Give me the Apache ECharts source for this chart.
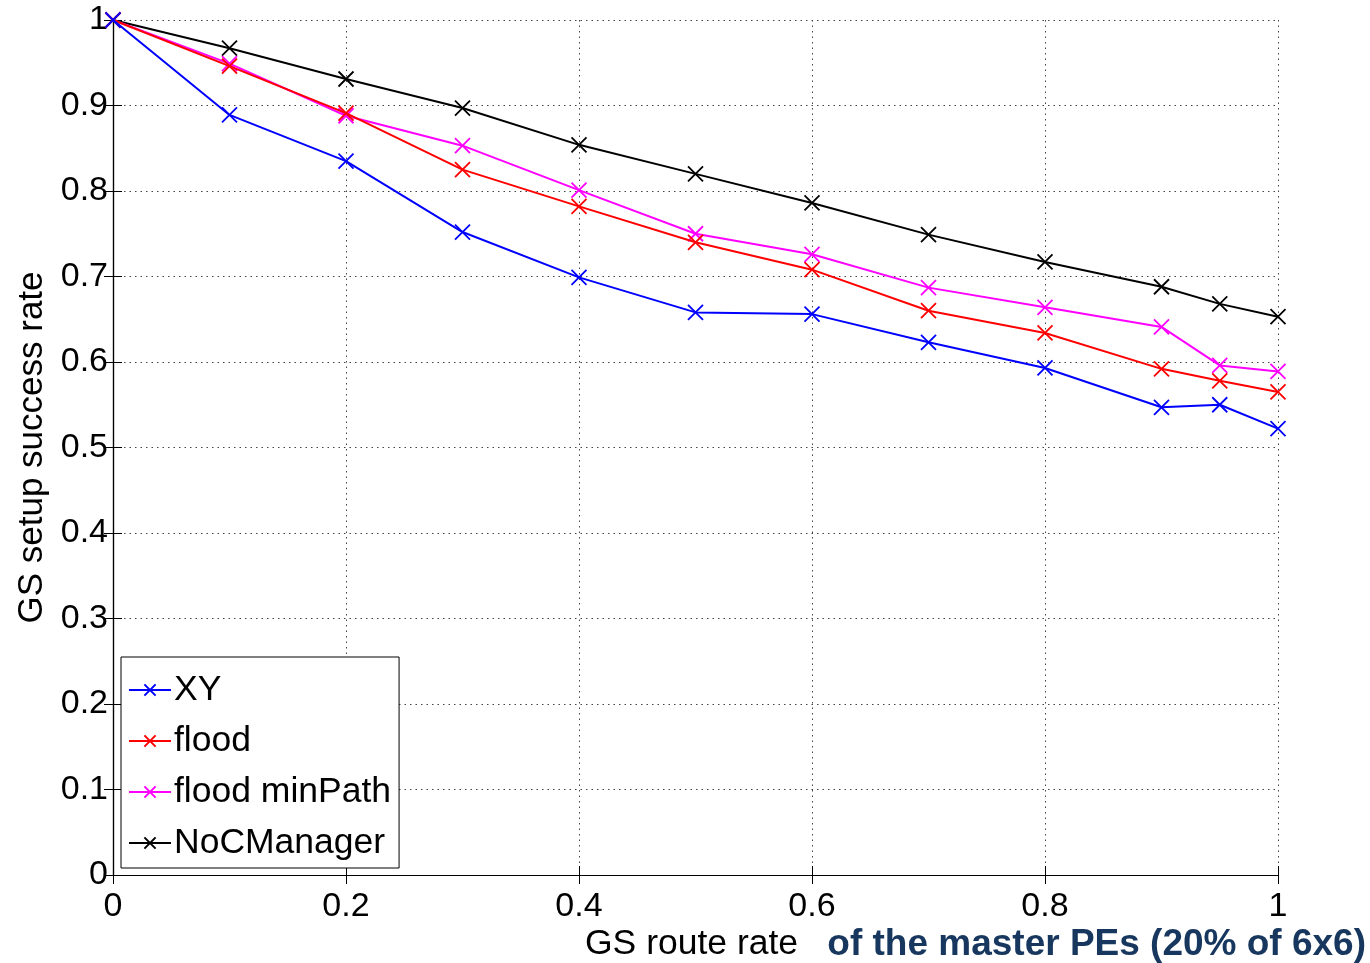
<!DOCTYPE html>
<html>
<head>
<meta charset="utf-8">
<script src="https://cdn.jsdelivr.net/npm/echarts@6/dist/echarts.min.js"></script>
<style>
html,body{margin:0;padding:0;background:#fff;}
#chart{width:1370px;height:963px;}
</style>
</head>
<body>
<div id="chart"></div>
<script>
const xValues = [0, 0.1, 0.2, 0.3, 0.4, 0.5, 0.6, 0.7, 0.8, 0.9, 0.95, 1];
const seriesNames = ['XY', 'flood', 'flood minPath', 'NoCManager'];
const xyValues = [1, 0.889, 0.835, 0.752, 0.699, 0.658, 0.656, 0.623, 0.593, 0.547, 0.550, 0.522];
const floodValues = [1, 0.946, 0.891, 0.825, 0.782, 0.740, 0.708, 0.660, 0.634, 0.592, 0.578, 0.565];
const floodMinPathValues = [1, 0.949, 0.888, 0.853, 0.801, 0.750, 0.726, 0.687, 0.664, 0.641, 0.596, 0.589];
const nocManagerValues = [1, 0.967, 0.931, 0.897, 0.854, 0.820, 0.786, 0.749, 0.717, 0.688, 0.668, 0.653];
const colors = ['#0000ff', '#ff0000', '#ff00ff', '#000000'];
const yAxisTitle = 'GS setup success rate';
const xAxisTitlePlain = 'GS route rate';
const xAxisTitleBold = 'of the master PEs (20% of 6x6)';

const FONT = 'Liberation Sans, Arial, Helvetica, sans-serif';
const chart = echarts.init(document.getElementById('chart'), null, {renderer: 'canvas'});
const allValues = [xyValues, floodValues, floodMinPathValues, nocManagerValues];
const xMark = 'path://M0,0L10,10M10,0L0,10';

const series = seriesNames.map((name, i) => ({
  name: name,
  type: 'line',
  data: xValues.map((x, j) => [x, allValues[i][j]]),
  symbol: xMark,
  symbolSize: 15,
  showAllSymbol: true,
  lineStyle: {color: colors[i], width: 2},
  itemStyle: {color: colors[i], borderColor: colors[i], borderWidth: 1.8},
  emphasis: {disabled: true},
  z: 10 - i,
  animation: false
}));

const gridLine = {show: true, lineStyle: {color: '#444', type: [1.5, 4], width: 1}};
const axisLineStyle = {show: true, lineStyle: {color: '#000', width: 1.2}};

chart.setOption({
  backgroundColor: '#fff',
  animation: false,
  grid: {left: 113, right: 92, top: 20, bottom: 88, containLabel: false, outerBoundsMode: 'none'},
  xAxis: [{
    type: 'value', min: 0, max: 1, interval: 0.2,
    axisLine: axisLineStyle,
    axisTick: {show: true, inside: true, length: 9, lineStyle: {color: '#000'}},
    axisLabel: {fontFamily: FONT, fontSize: 34, color: '#000', margin: 15,
      formatter: v => String(Math.round(v * 10) / 10)},
    splitLine: gridLine
  }, {
    type: 'value', min: 0, max: 1, interval: 0.2, position: 'top',
    axisLine: axisLineStyle,
    axisTick: {show: true, inside: true, length: 9, lineStyle: {color: '#000'}},
    axisLabel: {show: false}, splitLine: {show: false}
  }],
  yAxis: [{
    type: 'value', min: 0, max: 1, interval: 0.1,
    axisLine: axisLineStyle,
    axisTick: {show: true, inside: true, length: 9, lineStyle: {color: '#000'}},
    axisLabel: {fontFamily: FONT, fontSize: 34, color: '#000', margin: 5,
      formatter: v => String(Math.round(v * 10) / 10)},
    splitLine: gridLine,
    name: yAxisTitle, nameLocation: 'middle', nameGap: 57, nameRotate: 90,
    nameTextStyle: {fontFamily: FONT, fontSize: 35, color: '#000'}
  }, {
    type: 'value', min: 0, max: 1, interval: 0.1, position: 'right',
    axisLine: axisLineStyle,
    axisTick: {show: true, inside: true, length: 9, lineStyle: {color: '#000'}},
    axisLabel: {show: false}, splitLine: {show: false}
  }],
  legend: {
    data: seriesNames,
    orient: 'vertical',
    left: 121, top: 657,
    padding: [13, 8, 5, 7],
    itemGap: 11,
    itemWidth: 42, itemHeight: 14,
    backgroundColor: '#fff',
    borderColor: '#000', borderWidth: 1,
    textStyle: {fontFamily: FONT, fontSize: 35.5, color: '#000', lineHeight: 40, padding: [0, 0, 0, -2]},
    selectedMode: false
  },
  graphic: [{
    type: 'text',
    left: 585, top: 926,
    style: {
      text: '{a|' + xAxisTitlePlain + '}{g|   }{b|' + xAxisTitleBold + '}',
      rich: {
        a: {fontFamily: FONT, fontSize: 35.5, fill: '#000'},
        g: {fontFamily: FONT, fontSize: 35},
        b: {fontFamily: FONT, fontSize: 37, fontWeight: 'bold', fill: '#17375e'}
      }
    }
  }],
  series: series
});
</script>
</body>
</html>
